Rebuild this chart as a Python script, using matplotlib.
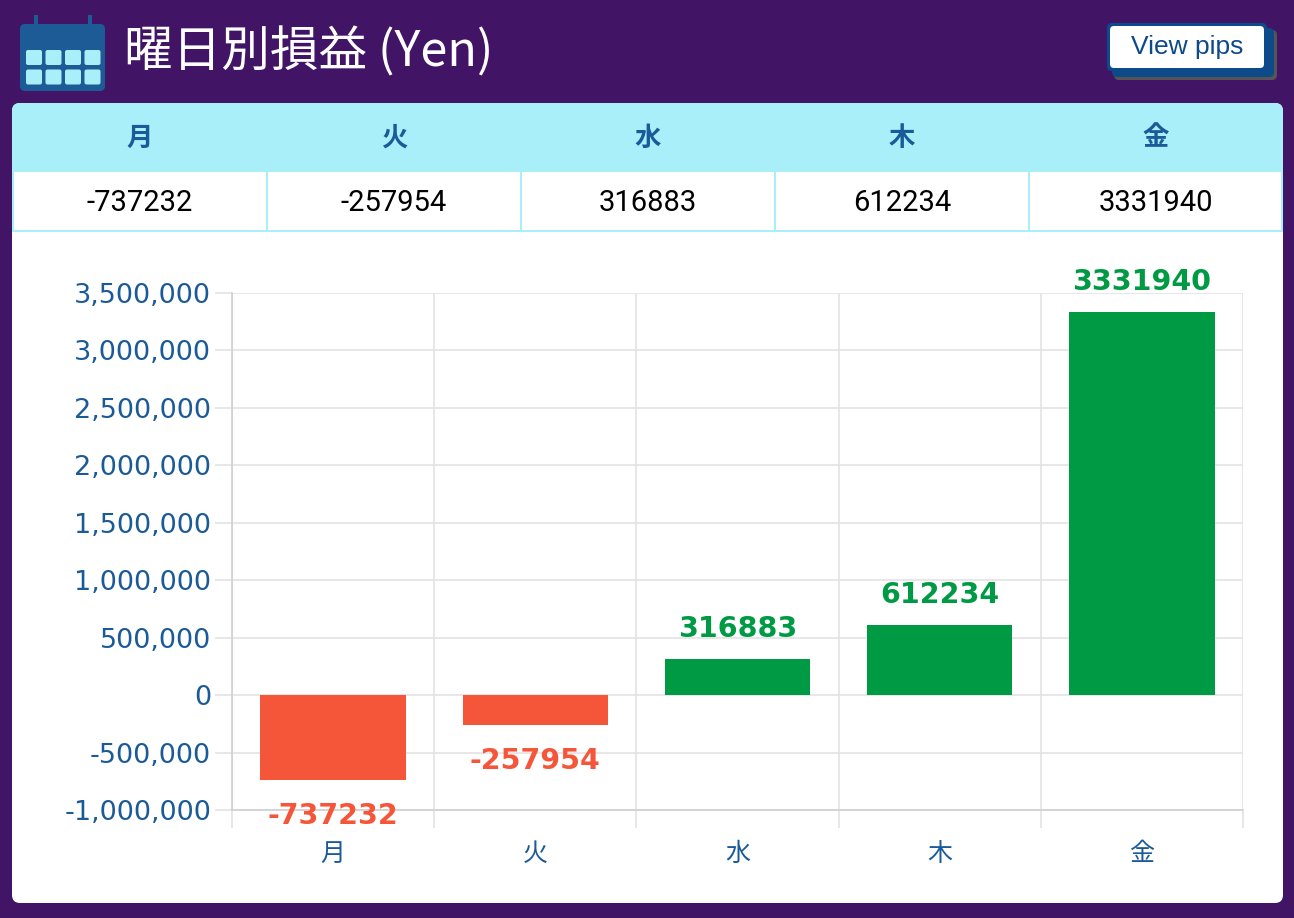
import matplotlib
matplotlib.use("Agg")
import matplotlib.pyplot as plt
from matplotlib.patches import FancyBboxPatch, Rectangle
from matplotlib.ticker import FuncFormatter, FixedLocator

plt.rcParams["font.family"] = ["DejaVu Sans", "Noto Sans CJK JP"]

# data
days = ["月", "火", "水", "木", "金"]
profit = [-737232, -257954, 316883, 612234, 3331940]
title = "曜日別損益 (Yen)"
button_label = "View pips"

# colours
PURPLE = "#411466"
CYAN = "#a8effa"
BLUE = "#1b5a98"
GREEN = "#009a44"
RED = "#f5563a"
GRID = "#e3e3e3"

W, H = 1294, 918
fig = plt.figure(figsize=(W / 100, H / 100), dpi=100)
fig.patch.set_facecolor(PURPLE)


def fx(x):
    return x / W


def fy(y):
    return 1 - y / H


def frect(x0, y0, x1, y1, **kw):
    # rectangle given in pixel coords (top-left origin)
    return Rectangle((fx(x0), fy(y1)), fx(x1 - x0), (y1 - y0) / H,
                     transform=fig.transFigure, zorder=0.5, **kw)


def fround(x0, y0, x1, y1, r, **kw):
    return FancyBboxPatch((fx(x0), fy(y1)), fx(x1 - x0), (y1 - y0) / H,
                          boxstyle=f"round,pad=0,rounding_size={r / W}",
                          transform=fig.transFigure, mutation_aspect=W / H,
                          zorder=0.5, **kw)


# white card
fig.patches.append(fround(12, 103, 1283, 903, 8, facecolor="white", edgecolor="none"))
# table header band
fig.patches.append(fround(12, 103, 1283, 150, 8, facecolor=CYAN, edgecolor="none"))
fig.patches.append(frect(12, 130, 1283, 172, facecolor=CYAN, edgecolor="none"))
# table body borders
col_edges = [12, 267, 521, 775, 1029, 1283]
for x in col_edges[1:-1]:
    fig.patches.append(frect(x - 1, 172, x + 1, 232, facecolor=CYAN, edgecolor="none"))
fig.patches.append(frect(12, 230, 1283, 232, facecolor=CYAN, edgecolor="none"))
fig.patches.append(frect(12, 172, 14, 232, facecolor=CYAN, edgecolor="none"))
fig.patches.append(frect(1281, 172, 1283, 232, facecolor=CYAN, edgecolor="none"))

for i, (d, v) in enumerate(zip(days, profit)):
    cx = (col_edges[i] + col_edges[i + 1]) / 2
    fig.text(fx(cx), fy(138), d, ha="center", va="center", color=BLUE,
             fontsize=19, fontweight="bold", family=["Noto Sans CJK JP"])
    fig.text(fx(cx), fy(203), str(v), ha="center", va="center", color="black",
             fontsize=21, family=["Roboto", "DejaVu Sans"])

# title
fig.text(fx(124), fy(52), title, ha="left", va="center", color="white",
         fontsize=35, family=["Noto Sans CJK JP", "DejaVu Sans"])

# calendar icon
fig.patches.append(fround(20, 24, 105, 91, 5, facecolor="#1d5b97", edgecolor="none"))
for rx in (36, 90):
    fig.patches.append(frect(rx - 2, 15, rx + 2, 30, facecolor="#1d5b97", edgecolor="none"))
for row in range(2):
    for col in range(4):
        x0 = 26 + col * 19.5
        y0 = 50 + row * 19.5
        fig.patches.append(fround(x0, y0, x0 + 16, y0 + 15, 2,
                                  facecolor="#a8effa", edgecolor="none"))

# view pips button with layered shadow
fig.patches.append(fround(1114, 30, 1277, 80, 5, facecolor="#555555", edgecolor="none"))
fig.patches.append(fround(1112, 28, 1274, 77, 5, facecolor="#0d4a8a", edgecolor="none"))
fig.patches.append(fround(1107, 23, 1267, 71, 5, facecolor="#0d4a8a", edgecolor="none"))
fig.patches.append(fround(1110, 26, 1264, 68, 4, facecolor="white", edgecolor="none"))
fig.text(fx(1187), fy(47), button_label, ha="center", va="center", color="#0d4a8a",
         fontsize=19, family=["Liberation Sans"])

# chart
ax = fig.add_axes([fx(232), fy(810), fx(1243 - 232), (810 - 293) / H])
ax.set_zorder(2)
ax.set_facecolor("white")
x = list(range(len(days)))
colors = [GREEN if v >= 0 else RED for v in profit]
bars = ax.bar(x, profit, width=0.72, color=colors, zorder=3)

ax.set_xlim(-0.5, len(days) - 0.5)
ax.set_ylim(-1000000, 3500000)
ax.yaxis.set_major_locator(FixedLocator(range(-1000000, 3500001, 500000)))
ax.yaxis.set_major_formatter(FuncFormatter(lambda v, p: f"{int(v):,}"))
ax.set_xticks(x)
ax.set_xticklabels(days, family=["Noto Sans CJK JP"], fontsize=18)
ax.xaxis.set_minor_locator(FixedLocator([i - 0.5 for i in range(len(days) + 1)]))

ax.tick_params(axis="x", which="major", length=0, pad=22, colors=BLUE)
ax.tick_params(axis="x", which="minor", length=13, width=1.2, color=GRID)
ax.tick_params(axis="y", length=12, width=1.2, color=GRID, colors=BLUE,
               labelsize=19.5, pad=3)
ax.tick_params(axis="y", which="major", color=GRID)

ax.grid(True, axis="y", color=GRID, lw=1.2, zorder=0)
ax.grid(True, axis="x", which="minor", color=GRID, lw=1.2, zorder=0)
for s in ("top", "right"):
    ax.spines[s].set_visible(False)
ax.spines["left"].set_color("#d0d0d0")
ax.spines["bottom"].set_color("#d0d0d0")
ax.spines["left"].set_linewidth(1.2)
ax.spines["bottom"].set_linewidth(1.2)

for b, v, c in zip(bars, profit, colors):
    off = 30 if v >= 0 else -36
    ax.annotate(str(v), (b.get_x() + b.get_width() / 2, v), xytext=(0, off),
                textcoords="offset pixels", ha="center", va="center",
                color=c, fontsize=20.5, fontweight="semibold",
                annotation_clip=False, zorder=4)

fig.savefig("out.png", dpi=100, facecolor=PURPLE)
